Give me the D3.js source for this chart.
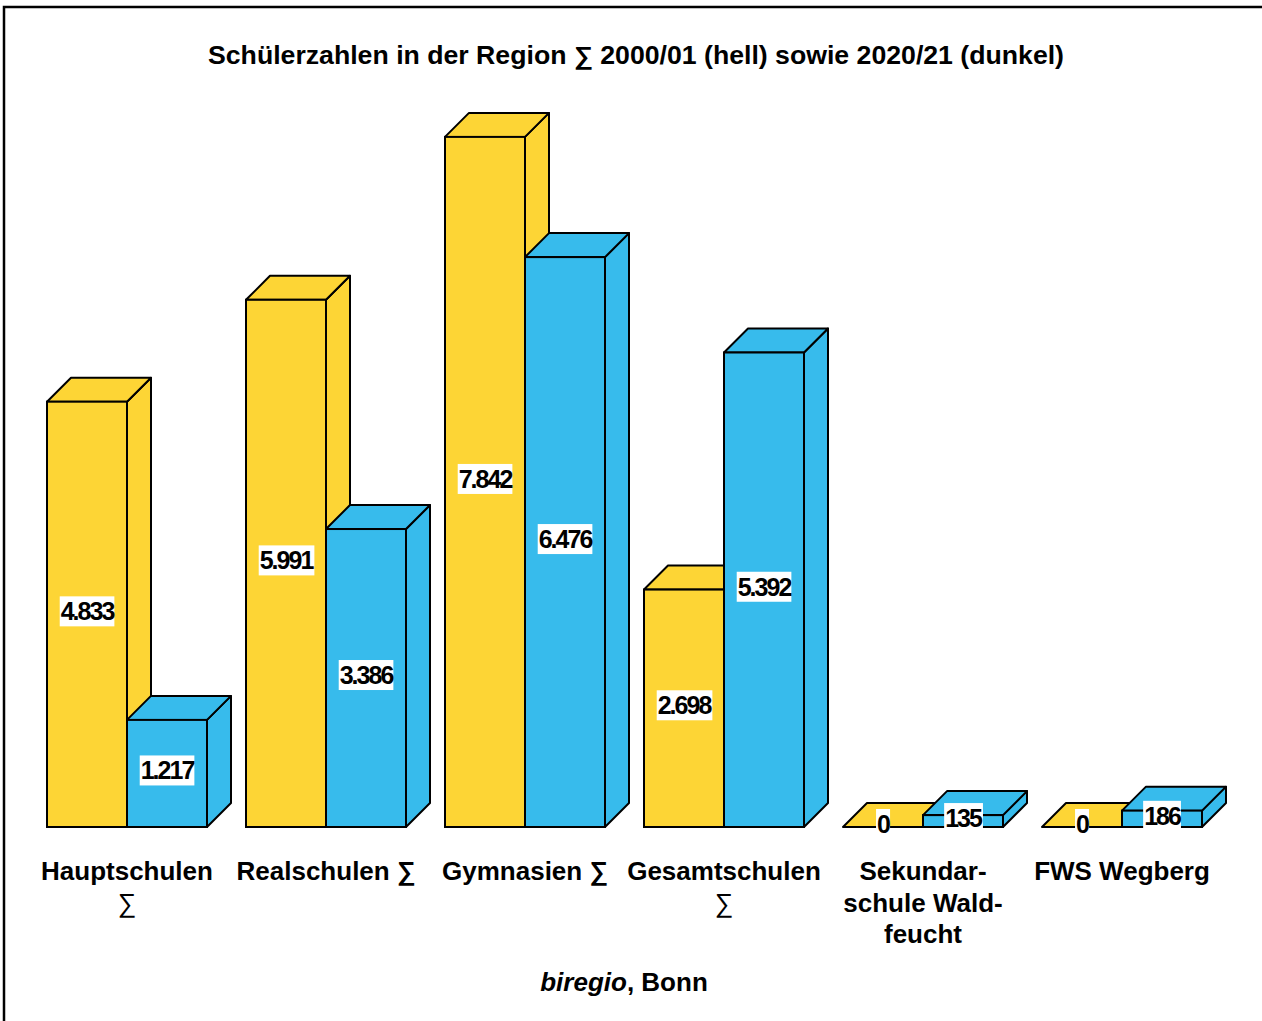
<!DOCTYPE html>
<html>
<head>
<meta charset="utf-8">
<script src="https://cdn.jsdelivr.net/npm/d3@7"></script>
<style>
  html, body { margin: 0; padding: 0; background: #fff; }
  svg { display: block; font-family: "Liberation Sans", Arial, sans-serif; }
</style>
</head>
<body>
<div id="chart"></div>
<script>
// Schülerzahlen 2000/01 vs 2020/21
const categories = [
    ["Hauptschulen", "∑"],
    ["Realschulen ∑"],
    ["Gymnasien ∑"],
    ["Gesamtschulen", "∑"],
    ["Sekundar-", "schule Wald-", "feucht"],
    ["FWS Wegberg"]
];
const values2000 = [4833, 5991, 7842, 2698, 0, 0];
const values2020 = [1217, 3386, 6476, 5392, 135, 186];
const seriesNames = ["2000/01", "2020/21"];

const width = 1262, height = 1021;
const baseY = 827;
const depth = 24;
const colors = ["#fdd535", "#37bbec"];

const svg = d3.select("#chart").append("svg")
    .attr("width", width)
    .attr("height", height);

// frame (only top and left edge visible)
svg.append("rect")
    .attr("x", 4).attr("y", 7)
    .attr("width", width + 20).attr("height", height + 20)
    .attr("fill", "none").attr("stroke", "#000").attr("stroke-width", 2.5);

svg.append("text")
    .attr("x", 636).attr("y", 64)
    .attr("text-anchor", "middle")
    .attr("font-size", "25px").attr("font-weight", "bold")
    .attr("textLength", 856).attr("lengthAdjust", "spacingAndGlyphs")
    .text("Schülerzahlen in der Region ∑ 2000/01 (hell) sowie 2020/21 (dunkel)");

const x = d3.scaleBand()
    .domain(d3.range(categories.length))
    .range([47, 1202])
    .paddingInner(39 / 199)
    .paddingOuter(0);

const xs = d3.scaleBand()
    .domain([0, 1])
    .range([0, x.bandwidth()]);

const y = d3.scaleLinear()
    .domain([0, 8000])
    .range([baseY, baseY - 704]);

const de = d3.formatLocale({ decimal: ",", thousands: ".", grouping: [3], currency: ["", "€"] });
const fmt = de.format(",d");

const bars = [];
categories.forEach((c, i) => {
    [values2000[i], values2020[i]].forEach((v, s) => {
        bars.push({ i, s, v, x0: x(i) + xs(s), w: xs.bandwidth(), top: y(v) });
    });
});

const g = svg.append("g");

bars.forEach(b => {
    const bg = g.append("g");
    const x0 = b.x0, x1 = b.x0 + b.w, t = b.top;
    // side face
    if (b.v > 0) {
        bg.append("path")
            .attr("d", `M${x1},${baseY} L${x1 + depth},${baseY - depth} L${x1 + depth},${t - depth} L${x1},${t} Z`)
            .attr("fill", colors[b.s]).attr("stroke", "#000").attr("stroke-width", 2).attr("stroke-linejoin", "round");
    }
    // top face
    bg.append("path")
        .attr("d", `M${x0},${t} L${x0 + depth},${t - depth} L${x1 + depth},${t - depth} L${x1},${t} Z`)
        .attr("fill", colors[b.s]).attr("stroke", "#000").attr("stroke-width", 2).attr("stroke-linejoin", "round");
    // front face
    if (b.v > 0) {
        bg.append("rect")
            .attr("x", x0).attr("y", t)
            .attr("width", b.w).attr("height", baseY - t)
            .attr("fill", colors[b.s]).attr("stroke", "#000").attr("stroke-width", 2);
    }
});

// value labels
bars.forEach(b => {
    const cx = b.x0 + b.w / 2;
    let cy = (b.top + baseY) / 2 - 3;
    if (b.v === 0) cy = baseY - 3;
    const lg = g.append("g");
    const txt = lg.append("text")
        .attr("x", cx).attr("y", cy)
        .attr("text-anchor", "middle")
        .attr("dominant-baseline", "central")
        .attr("font-size", "25px").attr("font-weight", "bold")
        .attr("letter-spacing", "-2px")
        .text(fmt(b.v));
    const bb = txt.node().getBBox();
    lg.insert("rect", "text")
        .attr("x", bb.x - 1).attr("y", cy - 15)
        .attr("width", bb.width + 1).attr("height", 30)
        .attr("fill", "#fff");
});

// category labels
categories.forEach((lines, i) => {
    const cx = x(i) + x.bandwidth() / 2;
    const t = svg.append("text")
        .attr("text-anchor", "middle")
        .attr("font-size", "26px").attr("font-weight", "bold");
    lines.forEach((l, k) => {
        const ts = t.append("tspan").attr("x", cx).attr("y", 880 + k * 31.5).text(l);
        if (l === "∑") ts.attr("font-weight", "normal");
    });
});

// source
const src = svg.append("text")
    .attr("x", 624).attr("y", 991)
    .attr("text-anchor", "middle")
    .attr("font-size", "26px").attr("font-weight", "bold");
src.append("tspan").attr("font-style", "italic").text("biregio");
src.append("tspan").text(", Bonn");
</script>
</body>
</html>
